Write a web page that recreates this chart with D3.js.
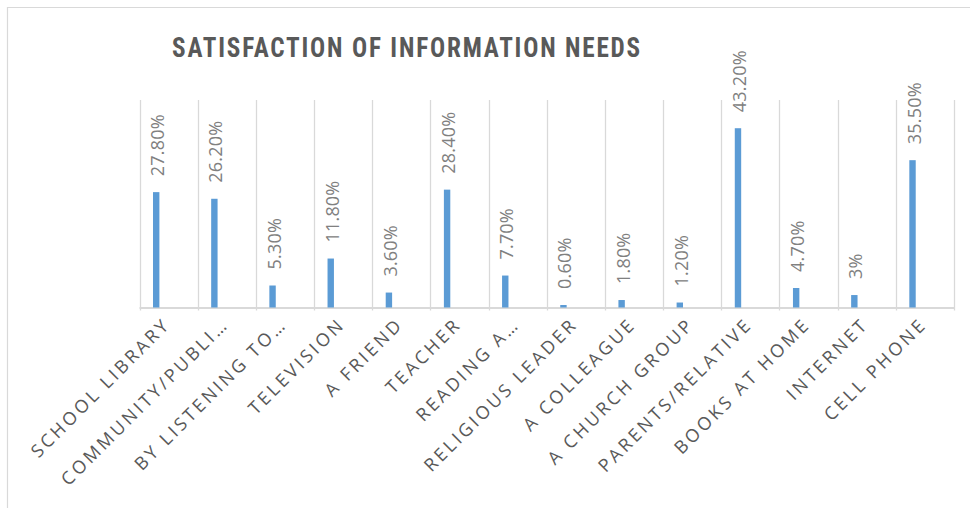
<!DOCTYPE html>
<html>
<head>
<meta charset="utf-8">
<script src="https://cdn.jsdelivr.net/npm/d3@7"></script>
<style>
  html, body { margin: 0; padding: 0; background: #fff; }
  svg { display: block; }
</style>
</head>
<body>
<div id="container"></div>
<script>
// ------ Data ------
const categories = [
  "SCHOOL LIBRARY", "COMMUNITY/PUBLI…", "BY LISTENING TO…", "TELEVISION",
  "A FRIEND", "TEACHER", "READING A…", "RELIGIOUS LEADER", "A COLLEAGUE",
  "A CHURCH GROUP", "PARENTS/RELATIVE", "BOOKS AT HOME", "INTERNET", "CELL PHONE"
];
const values = [27.8, 26.2, 5.3, 11.8, 3.6, 28.4, 7.7, 0.6, 1.8, 1.2, 43.2, 4.7, 3, 35.5];
const valueLabels = [
  "27.80%", "26.20%", "5.30%", "11.80%", "3.60%", "28.40%", "7.70%",
  "0.60%", "1.80%", "1.20%", "43.20%", "4.70%", "3%", "35.50%"
];
const title = "SATISFACTION OF INFORMATION NEEDS";

// ------ Global Values ------
const width = 970,
  height = 508;

const svg = d3.select('#container').append('svg')
  .attr('width', width)
  .attr('height', height);

const plot = { left: 139.5, right: 954, top: 100, bottom: 307.5 };

const x = d3.scaleBand()
  .domain(categories)
  .range([plot.left, plot.right])
  .padding(0);

const y = d3.scaleLinear()
  .domain([0, 50])
  .range([plot.bottom, plot.top]);

const bw = x.bandwidth();

// chart frame (partly cropped)
svg.append('path')
  .attr('d', `M7.5,${height} V7.5 H${width}`)
  .attr('fill', 'none')
  .attr('stroke', '#d9d9d9')
  .attr('stroke-width', 1.2);

// title
svg.append('text')
  .attr('x', 172)
  .attr('y', 57)
  .attr('textLength', 470)
  .attr('lengthAdjust', 'spacingAndGlyphs')
  .style('font-family', '"Liberation Sans Narrow", "Roboto Condensed", Roboto, sans-serif')
  .style('font-weight', 'bold')
  .style('font-size', '28px')
  .style('letter-spacing', '2px')
  .style('fill', '#595959')
  .text(title);

// vertical grid lines at category boundaries
const bounds = categories.map(c => x(c)).concat([plot.right]);
svg.append('g').attr('id', 'grid')
  .selectAll('line').data(bounds)
    .enter().append('line')
    .attr('x1', d => Math.round(d) + 0.5)
    .attr('x2', d => Math.round(d) + 0.5)
    .attr('y1', plot.top)
    .attr('y2', plot.bottom + 3)
    .attr('stroke', '#d9d9d9')
    .attr('stroke-width', 1.3);

// baseline
svg.append('line')
  .attr('x1', plot.left)
  .attr('x2', plot.right + 1)
  .attr('y1', y(0) + 0.5)
  .attr('y2', y(0) + 0.5)
  .attr('stroke', '#d9d9d9')
  .attr('stroke-width', 2);

// bars
svg.append('g').attr('id', 'bars')
  .selectAll('rect').data(values)
    .enter().append('rect')
    .attr('x', (d, i) => x(categories[i]) + bw * 0.232)
    .attr('width', bw * 0.11)
    .attr('y', d => y(d))
    .attr('height', d => y(0) - y(d))
    .attr('fill', '#5b9bd5');

// data labels
svg.append('g').attr('id', 'labels')
  .selectAll('text').data(values)
    .enter().append('text')
    .attr('transform', (d, i) => {
      const cx = x(categories[i]) + bw * 0.287;
      return `translate(${cx + 8},${y(d) - 16}) rotate(-90)`;
    })
    .attr('text-anchor', 'start')
    .style('font-family', '"Open Sans", sans-serif')
    .style('font-size', '18px')
    .style('letter-spacing', '0.2px')
    .style('fill', '#808080')
    .text((d, i) => valueLabels[i]);

// category labels
svg.append('g').attr('id', 'categories')
  .selectAll('text').data(categories)
    .enter().append('text')
    .attr('transform', d => `translate(${x(d) + bw / 2 + 3},${plot.bottom + 18}) rotate(-45)`)
    .attr('text-anchor', 'end')
    .style('font-family', '"Open Sans", sans-serif')
    .style('font-size', '18px')
    .style('letter-spacing', '3px')
    .style('fill', '#595959')
    .text(d => d);
</script>
</body>
</html>
